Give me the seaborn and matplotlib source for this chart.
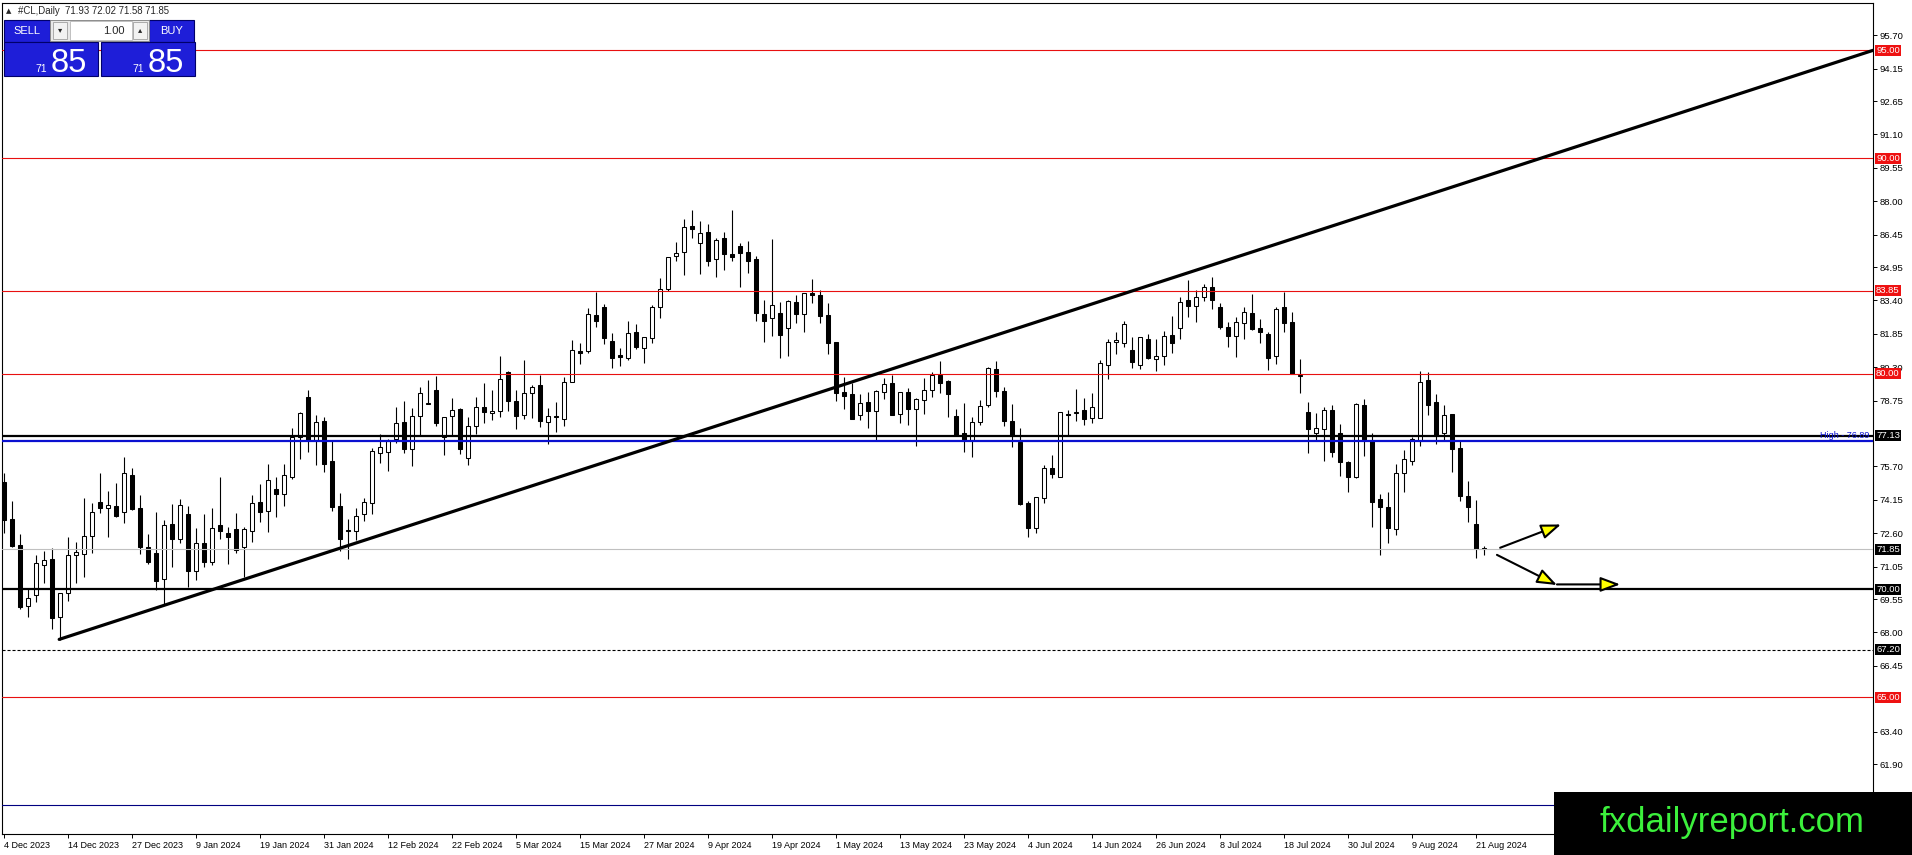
"""#CL daily candles with support / resistance levels, MT4 look."""

import matplotlib

matplotlib.use("Agg")

import matplotlib.pyplot as plt
import numpy as np
import pandas as pd
import seaborn as sns
from matplotlib.patches import FancyArrowPatch, Rectangle
from matplotlib.transforms import blended_transform_factory


# daily bars, 4 Dec 2023 .. 22 Aug 2024
OPENS = [
    75.00, 73.26, 72.06, 69.24, 69.74, 71.11, 71.39, 68.70, 69.81, 71.58,
    71.62, 72.46, 74.05, 73.76, 73.87, 73.57, 75.30, 73.76, 71.96, 71.68,
    70.46, 73.01, 72.32, 73.48, 70.87, 72.13, 71.28, 72.97, 72.60, 72.80,
    71.95, 72.72, 74.03, 73.65, 74.64, 74.43, 75.22, 77.05, 78.90, 76.93,
    77.81, 75.94, 73.86, 72.74, 72.72, 73.48, 74.02, 76.34, 76.38, 76.97,
    77.76, 76.52, 78.05, 78.62, 79.27, 77.08, 78.05, 78.36, 76.07, 77.57,
    78.44, 78.16, 78.25, 80.09, 78.72, 78.11, 79.09, 79.46, 77.74, 78.05,
    77.88, 79.60, 81.04, 81.07, 82.72, 83.11, 81.52, 80.87, 80.74, 81.92,
    81.18, 81.64, 83.11, 83.91, 85.44, 85.63, 86.85, 86.05, 86.57, 85.30,
    86.28, 85.54, 85.92, 85.63, 85.32, 82.77, 82.57, 82.80, 82.11, 83.31,
    82.75, 83.73, 83.65, 82.71, 81.45, 79.15, 79.04, 78.11, 78.67, 78.28,
    79.17, 79.55, 78.12, 79.14, 78.38, 78.76, 79.27, 79.94, 79.66, 78.05,
    77.24, 76.92, 77.74, 78.55, 80.20, 79.21, 77.79, 76.85, 73.99, 72.83,
    74.22, 75.61, 75.22, 78.12, 78.16, 78.32, 77.93, 77.93, 80.39, 81.46,
    81.41, 81.10, 80.40, 81.61, 80.67, 80.81, 81.81, 82.11, 83.42, 83.16,
    83.54, 84.01, 83.08, 82.18, 81.73, 82.34, 82.80, 82.10, 81.83, 80.82,
    83.08, 82.38, 79.90, 78.21, 77.26, 77.42, 78.30, 77.23, 75.89, 75.19,
    78.55, 76.89, 74.17, 73.80, 72.78, 75.38, 75.97, 76.88, 79.71, 78.67,
    77.23, 78.13, 76.54, 74.33, 73.03, 71.93,
]
HIGHS = [
    75.40, 74.10, 72.55, 70.00, 71.59, 71.78, 71.92, 69.81, 72.44, 72.18,
    74.22, 74.02, 75.38, 74.56, 74.92, 76.12, 75.61, 74.37, 72.55, 73.57,
    73.22, 73.96, 74.17, 73.88, 72.86, 73.49, 73.76, 75.19, 72.87, 73.52,
    72.90, 74.37, 74.88, 75.81, 75.22, 75.81, 77.47, 78.24, 79.24, 78.08,
    78.00, 76.93, 74.45, 73.26, 73.76, 74.22, 76.54, 77.20, 76.96, 78.47,
    78.72, 78.39, 79.40, 79.71, 79.90, 78.00, 78.86, 78.40, 78.00, 78.93,
    79.55, 79.24, 80.82, 80.15, 79.24, 80.63, 79.48, 79.92, 78.39, 78.67,
    79.86, 81.56, 81.41, 83.03, 83.80, 83.23, 81.87, 81.18, 82.44, 82.30,
    81.69, 83.19, 84.42, 85.40, 86.12, 87.17, 87.59, 87.08, 86.94, 86.31,
    86.56, 87.59, 86.05, 86.16, 85.46, 83.42, 86.25, 83.31, 83.42, 83.65,
    83.76, 84.39, 83.88, 83.26, 81.49, 79.86, 79.55, 79.06, 79.17, 79.23,
    79.80, 79.94, 79.17, 79.32, 78.86, 79.80, 80.06, 80.59, 79.71, 78.36,
    78.66, 77.98, 78.78, 80.30, 80.60, 79.37, 78.59, 77.47, 74.11, 74.30,
    75.77, 76.23, 78.24, 78.32, 79.28, 78.89, 79.09, 80.64, 81.59, 81.92,
    82.44, 81.72, 81.72, 81.84, 81.61, 81.98, 82.68, 83.57, 84.35, 83.88,
    84.15, 84.50, 83.30, 82.41, 82.65, 83.11, 83.70, 82.52, 81.92, 83.11,
    83.79, 82.85, 80.67, 78.67, 78.16, 78.47, 78.55, 77.65, 75.95, 78.63,
    78.83, 77.23, 74.42, 74.53, 75.80, 76.46, 77.08, 80.13, 80.09, 79.06,
    78.55, 78.13, 76.89, 75.04, 74.14, 72.02,
]
LOWS = [
    72.60, 71.95, 69.07, 68.73, 69.43, 70.31, 68.17, 67.65, 69.47, 70.28,
    70.56, 71.70, 73.55, 72.44, 73.37, 73.09, 73.68, 71.64, 71.19, 69.97,
    69.30, 71.02, 72.13, 70.09, 70.43, 71.05, 71.13, 72.35, 71.17, 71.67,
    70.59, 72.21, 73.14, 72.67, 73.37, 73.88, 75.10, 76.03, 76.38, 75.77,
    75.46, 73.65, 71.79, 71.39, 72.29, 73.18, 73.49, 75.87, 75.50, 76.80,
    76.34, 75.72, 77.13, 78.60, 77.57, 76.23, 77.13, 76.28, 75.75, 77.20,
    77.73, 77.85, 78.01, 78.29, 77.45, 77.91, 77.96, 77.51, 76.74, 77.28,
    77.57, 79.60, 80.43, 80.94, 82.15, 81.38, 80.25, 80.37, 80.63, 81.13,
    80.51, 81.44, 82.57, 83.85, 85.23, 84.58, 86.28, 84.65, 84.99, 84.50,
    84.81, 85.24, 84.01, 84.69, 82.46, 81.49, 81.76, 80.74, 80.84, 82.34,
    81.95, 83.29, 82.34, 80.90, 78.75, 78.35, 77.91, 77.85, 77.50, 76.92,
    78.83, 78.10, 77.73, 77.62, 76.66, 78.13, 78.93, 79.12, 78.01, 77.14,
    76.38, 76.12, 77.62, 78.47, 78.94, 77.59, 76.62, 73.91, 72.44, 72.60,
    74.02, 75.15, 75.19, 77.13, 77.82, 77.62, 77.70, 77.93, 79.74, 80.91,
    81.22, 80.28, 80.20, 80.68, 80.14, 80.40, 80.94, 81.61, 82.65, 82.41,
    83.39, 82.99, 82.06, 81.22, 80.76, 81.59, 82.03, 81.41, 80.17, 80.43,
    81.95, 79.99, 79.09, 76.34, 76.92, 75.97, 76.15, 75.27, 74.53, 75.15,
    76.20, 72.90, 71.59, 72.16, 72.52, 74.53, 75.77, 76.65, 78.08, 76.74,
    76.89, 75.46, 74.10, 73.14, 71.44, 71.58,
]
CLOSES = [
    73.24, 72.01, 69.19, 69.58, 71.20, 71.35, 68.68, 69.81, 71.59, 71.72,
    72.46, 73.57, 73.76, 73.90, 73.42, 75.38, 73.73, 71.98, 71.25, 70.40,
    72.97, 72.35, 73.90, 70.87, 72.16, 71.27, 72.83, 72.72, 72.44, 71.84,
    72.80, 73.99, 73.60, 75.05, 74.43, 75.29, 77.05, 78.18, 76.93, 77.74,
    75.80, 73.83, 72.32, 72.70, 73.40, 74.03, 76.41, 76.59, 76.88, 77.70,
    76.52, 78.02, 79.09, 78.66, 77.73, 77.98, 78.32, 76.51, 77.57, 78.47,
    78.24, 78.27, 79.74, 78.72, 78.05, 79.09, 79.40, 77.79, 78.05, 78.00,
    79.60, 81.08, 80.94, 82.75, 82.46, 81.67, 80.74, 80.76, 81.87, 81.25,
    81.69, 83.08, 83.91, 85.40, 85.58, 86.79, 86.70, 86.51, 85.24, 86.20,
    85.54, 85.40, 85.58, 85.24, 82.80, 82.46, 83.19, 81.80, 83.39, 82.75,
    83.73, 83.63, 82.69, 81.44, 79.09, 78.98, 77.91, 78.63, 78.28, 79.20,
    79.52, 78.10, 79.14, 78.38, 78.81, 79.27, 79.94, 79.58, 79.07, 77.14,
    76.92, 77.74, 78.52, 80.25, 79.21, 77.82, 77.13, 73.94, 72.86, 74.27,
    75.61, 75.33, 78.21, 78.07, 78.24, 77.88, 78.44, 80.52, 81.46, 81.56,
    82.29, 80.53, 81.69, 80.71, 80.84, 81.73, 81.44, 83.34, 83.14, 83.57,
    84.01, 83.42, 82.18, 81.76, 82.38, 82.85, 82.07, 81.95, 80.74, 83.02,
    82.34, 79.99, 79.92, 77.42, 77.47, 78.30, 76.38, 75.89, 75.22, 78.59,
    76.93, 74.06, 73.83, 72.86, 75.38, 76.03, 76.96, 79.60, 78.55, 77.13,
    78.08, 76.51, 74.33, 73.83, 71.88, 71.85,
]

DATE_LABELS = [
    "4 Dec 2023", "14 Dec 2023", "27 Dec 2023", "9 Jan 2024", "19 Jan 2024",
    "31 Jan 2024", "12 Feb 2024", "22 Feb 2024", "5 Mar 2024", "15 Mar 2024",
    "27 Mar 2024", "9 Apr 2024", "19 Apr 2024", "1 May 2024", "13 May 2024",
    "23 May 2024", "4 Jun 2024", "14 Jun 2024", "26 Jun 2024", "8 Jul 2024",
    "18 Jul 2024", "30 Jul 2024", "9 Aug 2024", "21 Aug 2024",
]
LABEL_STEP = 8

# scale labels; the ones sitting under the level tags / watermark are left out
PRICE_TICKS = [
    95.70, 94.15, 92.65, 91.10, 89.55, 88.00, 86.45, 84.95, 83.40, 81.85,
    80.30, 78.75, 75.70, 74.15, 72.60, 71.05, 69.55, 68.00, 66.45,
    63.40, 61.90,
]

RED_LEVELS = [95.00, 90.00, 83.85, 80.00, 65.00]
BLACK_LEVELS = [77.13, 70.00]
HIGH_LEVEL = 76.89
BID_LEVEL = 71.85
DASHED_LEVEL = 67.20
NAVY_LEVEL = 60.00
LEVEL_TAGS = [
    (95.00, "red"), (90.00, "red"), (83.85, "red"), (80.00, "red"),
    (77.13, "black"), (71.85, "black"), (70.00, "black"), (67.20, "black"),
    (65.00, "red"),
]

TREND_X = [6.9, 233.6]
TREND_Y = [67.68, 95.00]

ARROWS = [
    ((187.0, 71.93), (194.6, 73.01)),
    ((186.6, 71.60), (194.1, 70.20)),
    ((194.1, 70.23), (202.0, 70.23)),
]

LAST_BAR = ("#CL,Daily", 71.93, 72.02, 71.58, 71.85)

W, H = 1912, 855
RED = "#e81010"
BLUE = "#0a10d0"
TAG_COLORS = {"red": "#ee1111", "black": "black"}


def draw_candles(ax, df):
    up = df["close"] >= df["open"]
    ax.vlines(df["bar"], df["low"], df["high"], color="black", lw=0.8, zorder=3)
    height = (df["close"] - df["open"]).abs().clip(lower=0.03)
    bottom = df[["open", "close"]].min(axis=1)
    ax.bar(df["bar"], height, bottom=bottom, width=0.58,
           color=np.where(up, "white", "black"), edgecolor="black",
           linewidth=0.75, zorder=4)


def draw_levels(ax):
    for level in RED_LEVELS:
        ax.axhline(level, color=RED, lw=0.8, zorder=5)
    ax.axhline(BID_LEVEL, color="#c0c0c0", lw=0.8, zorder=5)
    ax.axhline(DASHED_LEVEL, color="black", lw=0.8, dashes=(2.2, 1.4), zorder=5)
    ax.axhline(NAVY_LEVEL, color="#000080", lw=0.8, zorder=5)
    ax.axhline(HIGH_LEVEL, color=BLUE, lw=1.6, zorder=5)
    for level in BLACK_LEVELS:
        ax.axhline(level, color="black", lw=1.6, zorder=6)
    ax.text(233.2, HIGH_LEVEL + 0.02, f"High - {HIGH_LEVEL:.2f}", color=BLUE,
            fontsize=6.5, ha="right", va="bottom", zorder=6)

    sns.lineplot(x=TREND_X, y=TREND_Y, ax=ax, color="black", lw=2.3, zorder=7)

    for start, end in ARROWS:
        ax.add_patch(FancyArrowPatch(start, end, zorder=8,
                                     arrowstyle="-|>,head_length=1.2,head_width=0.45",
                                     fc="#ffff00", ec="black", lw=1.5,
                                     shrinkA=0, shrinkB=0, mutation_scale=10))

    trans = blended_transform_factory(ax.transAxes, ax.transData)
    for level, key in LEVEL_TAGS:
        ax.annotate(f"{level:.2f}", xy=(1.0, level), xycoords=trans,
                    xytext=(3, 0), textcoords="offset pixels",
                    ha="left", va="center", fontsize=6.8, color="white",
                    annotation_clip=False, zorder=20,
                    bbox=dict(boxstyle="square,pad=0.12", fc=TAG_COLORS[key], ec="none"))


def draw_panel(ui):
    blue = "#1e1ed8"
    edge = "#00006a"
    for x0, w, label in [(4, 46, "SELL"), (149, 45, "BUY")]:
        ui.add_patch(Rectangle((x0, 20), w, 22, fc=blue, ec=edge, lw=0.8))
        ui.text(x0 + w / 2, 31.5, label, color="white", fontsize=8,
                ha="center", va="center")
    ui.add_patch(Rectangle((50, 20), 99, 21, fc="#e8e8e8", ec="#8c8c8c", lw=0.7))
    ui.add_patch(Rectangle((53, 22), 14, 17, fc="#f2f2f2", ec="#a0a0a0", lw=0.6))
    ui.add_patch(Rectangle((133, 22), 14, 17, fc="#f2f2f2", ec="#a0a0a0", lw=0.6))
    ui.add_patch(Rectangle((70, 21), 62, 19, fc="white", ec="#b8b8b8", lw=0.6))
    ui.text(60, 30.5, "▾", fontsize=6, ha="center", va="center")
    ui.text(140, 30.5, "▴", fontsize=6, ha="center", va="center")
    ui.text(125, 31, "1.00", fontsize=8, ha="right", va="center")

    price = f"{LAST_BAR[4]:.2f}"
    big, small = price[-2:], price[:2]
    for x0, w in [(4, 94), (101, 94)]:
        ui.add_patch(Rectangle((x0, 42), w, 34, fc=blue, ec=edge, lw=0.8))
        ui.text(x0 + 31, 71.5, small, color="white", fontsize=7.5, ha="left", va="baseline")
        ui.text(x0 + 47, 72, big, color="white", fontsize=23.5, ha="left", va="baseline")

    ui.text(6, 11, "▲", fontsize=5, ha="left", va="center", family="DejaVu Sans")
    name, o, h, l, c = LAST_BAR
    ui.text(18, 11, f"{name}  {o:.2f} {h:.2f} {l:.2f} {c:.2f}", fontsize=6.9,
            ha="left", va="center")

    ui.add_patch(Rectangle((1554, 792), W - 1554, H - 792, fc="black", ec="none"))
    ui.text(1732, 822, "fxdailyreport.com", color="#3cf03c", fontsize=25,
            ha="center", va="center")


def main():
    sns.set_theme(style="white")
    plt.rcParams["font.family"] = ["Liberation Sans", "DejaVu Sans"]
    plt.rcParams["lines.scale_dashes"] = False

    df = pd.DataFrame({"open": OPENS, "high": HIGHS, "low": LOWS, "close": CLOSES})
    df["bar"] = np.arange(len(df))

    fig = plt.figure(figsize=(W / 100, H / 100), dpi=100)
    fig.patch.set_facecolor("white")
    left, right, top, bottom = 2.3, 1873.0, 2.7, 834.3
    ax = fig.add_axes([left / W, (H - bottom) / H, (right - left) / W, (bottom - top) / H])
    ax.set_facecolor("white")

    draw_candles(ax, df)
    draw_levels(ax)

    ax.set_xlim(-0.21, 233.6)
    ax.set_ylim(58.64, 97.21)
    ax.set_xlabel("")
    ax.set_ylabel("")

    ax.set_xticks(np.arange(0, len(DATE_LABELS) * LABEL_STEP, LABEL_STEP))
    ax.set_xticklabels(DATE_LABELS, ha="left")
    ax.tick_params(axis="x", direction="out", length=3, width=0.7, pad=1.5,
                   labelsize=6.5, bottom=True, colors="black")
    ax.yaxis.tick_right()
    ax.set_yticks(PRICE_TICKS)
    ax.set_yticklabels([f"{v:.2f}" for v in PRICE_TICKS])
    ax.tick_params(axis="y", direction="out", length=3, width=0.7, pad=2,
                   labelsize=6.8, right=True, colors="black")
    for spine in ax.spines.values():
        spine.set_color("black")
        spine.set_linewidth(0.8)
        spine.set_visible(True)

    ui = fig.add_axes([0, 0, 1, 1], zorder=10)
    ui.set_xlim(0, W)
    ui.set_ylim(H, 0)
    ui.axis("off")
    ui.patch.set_alpha(0)
    draw_panel(ui)

    fig.savefig("out.png", dpi=100)
    plt.close(fig)


if __name__ == "__main__":
    main()
